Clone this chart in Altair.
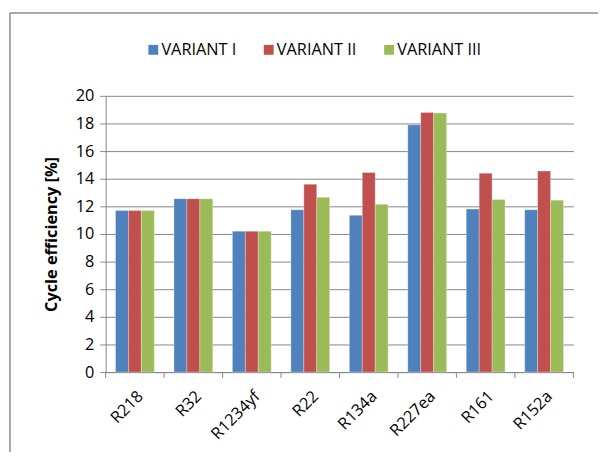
import altair as alt
import pandas as pd

refrigerants = ["R218", "R32", "R1234yf", "R22", "R134a", "R227ea", "R161", "R152a"]
variants = ["VARIANT I", "VARIANT II", "VARIANT III"]
variant_1 = [11.7, 12.55, 10.2, 11.75, 11.35, 17.9, 11.8, 11.75]
variant_2 = [11.7, 12.55, 10.2, 13.6, 14.45, 18.8, 14.4, 14.55]
variant_3 = [11.7, 12.55, 10.2, 12.65, 12.15, 18.75, 12.5, 12.45]
colors = ["#4F81BD", "#C0504D", "#9BBB59"]
y_ticks = list(range(0, 21, 2))

rows = []
for series, vals in zip(variants, [variant_1, variant_2, variant_3]):
    for r, v in zip(refrigerants, vals):
        rows.append({"refrigerant": r, "variant": series, "value": v})
df = pd.DataFrame(rows)
cat_df = pd.DataFrame({"refrigerant": refrigerants})
last_df = pd.DataFrame({"refrigerant": refrigerants[-1:]})

FONT = "Open Sans"
FS = 16.5
W, H = 474, 280
PAD = {"left": 99, "top": 86, "right": 25, "bottom": 81}
xscale = alt.Scale(domain=refrigerants, paddingInner=0, paddingOuter=0)

bars = alt.Chart(df).mark_bar(stroke="#ffffff", strokeWidth=0.6, strokeOpacity=0.5).encode(
    x=alt.X("refrigerant:N", sort=refrigerants, title=None, scale=xscale,
            axis=alt.Axis(labelAngle=-45, ticks=False, grid=False,
                          domainColor="#868686",
                          labelFontSize=FS, labelFont=FONT, labelColor="#000000",
                          labelPadding=16)),
    xOffset=alt.XOffset("variant:N", sort=variants,
                        scale=alt.Scale(paddingInner=0, paddingOuter=0.76)),
    y=alt.Y("value:Q", title="Cycle efficiency [%]",
            scale=alt.Scale(domain=[0, 20], nice=False),
            axis=alt.Axis(values=y_ticks, tickSize=6, domainColor="#868686",
                          tickColor="#868686", gridColor="#868686", gridWidth=1,
                          labelFontSize=FS, labelFont=FONT, labelColor="#000000",
                          labelPadding=6, titleFontSize=FS, titleFont=FONT,
                          titleFontWeight="bold", titleColor="#000000", titlePadding=16)),
    color=alt.Color("variant:N", sort=variants,
                    scale=alt.Scale(domain=variants, range=colors),
                    legend=alt.Legend(title=None, orient="none", legendX=40, legendY=-55,
                                      direction="horizontal", symbolType="square",
                                      symbolSize=100, symbolStrokeWidth=0,
                                      labelFontSize=FS, labelFont=FONT,
                                      labelColor="#000000", labelOffset=0,
                                      columnPadding=24)),
)

ticks_start = alt.Chart(cat_df).mark_rule(color="#868686", strokeWidth=1).encode(
    x=alt.X("refrigerant:N", sort=refrigerants, scale=xscale, bandPosition=0),
    y=alt.value(H), y2=alt.value(H + 6))
ticks_end = alt.Chart(last_df).mark_rule(color="#868686", strokeWidth=1).encode(
    x=alt.X("refrigerant:N", sort=refrigerants, scale=xscale, bandPosition=1),
    y=alt.value(H), y2=alt.value(H + 6))

frame_df = pd.DataFrame({"k": [0]})
top_line = alt.Chart(frame_df).mark_rule(color="#8c8c8c", strokeWidth=1.5).encode(
    x=alt.value(-97), x2=alt.value(W + PAD["right"]), y=alt.value(-84))
left_line = alt.Chart(frame_df).mark_rule(color="#8c8c8c", strokeWidth=1.5).encode(
    x=alt.value(-97), y=alt.value(-84), y2=alt.value(H + PAD["bottom"]))

chart = alt.layer(bars, ticks_start, ticks_end, top_line, left_line).properties(
    width=W, height=H,
    autosize=alt.AutoSizeParams(type="none"),
    padding=PAD,
    background="#ffffff",
).configure_view(stroke="transparent", strokeWidth=0, strokeOpacity=0)

chart.save("out.html", embed_options={"renderer": "svg", "actions": False})
